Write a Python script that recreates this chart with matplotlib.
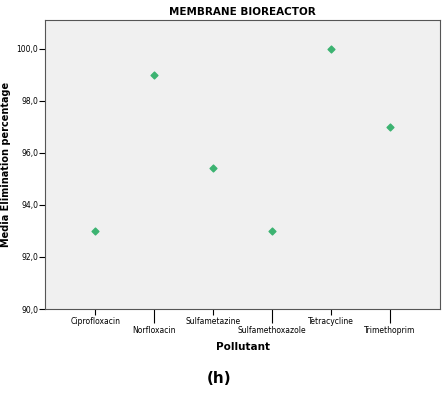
import matplotlib.pyplot as plt
from matplotlib.ticker import FuncFormatter

pollutants = ["Ciprofloxacin", "Norfloxacin", "Sulfametazine",
              "Sulfamethoxazole", "Tetracycline", "Trimethoprim"]
elimination = [93.0, 99.0, 95.4, 93.0, 100.0, 97.0]
y_ticks = [90, 92, 94, 96, 98, 100]

fig = plt.figure(figsize=(4.47, 3.98), dpi=100)
ax = fig.add_axes([0.1007, 0.2236, 0.8837, 0.726])
ax.set_facecolor("#f0f0f0")

x = list(range(len(pollutants)))
ax.scatter(x, elimination, marker="D", s=12, color="#3cb371", zorder=3)

ax.set_xlim(-0.85, 5.85)
ax.set_ylim(90, 101.1)

# staggered labels: even ones on major ticks, odd ones on longer minor ticks
ax.set_xticks(x[0::2])
ax.set_xticklabels(pollutants[0::2], fontsize=5.5)
ax.set_xticks(x[1::2], minor=True)
ax.set_xticklabels(pollutants[1::2], minor=True, fontsize=5.5)
ax.tick_params(axis="x", which="major", length=4, width=0.8, pad=2)
ax.tick_params(axis="x", which="minor", length=10, width=0.8, pad=2)

ax.set_yticks(y_ticks)
ax.yaxis.set_major_formatter(FuncFormatter(lambda v, p: f"{v:.1f}".replace(".", ",")))
ax.tick_params(axis="y", length=4, width=0.8, labelsize=5.5, pad=1)

for s in ax.spines.values():
    s.set_color("#555555")
    s.set_linewidth(0.8)

ax.set_xlabel("Pollutant", fontsize=7.5, fontweight="bold", labelpad=5)
ax.set_ylabel("Media Elimination percentage", fontsize=7, fontweight="bold", labelpad=4)
ax.set_title("MEMBRANE BIOREACTOR", fontsize=7.5, fontweight="bold", pad=4)

fig.text(0.49, 0.05, "(h)", ha="center", va="center", fontsize=11, fontweight="bold")

fig.savefig("out.png", dpi=100)
